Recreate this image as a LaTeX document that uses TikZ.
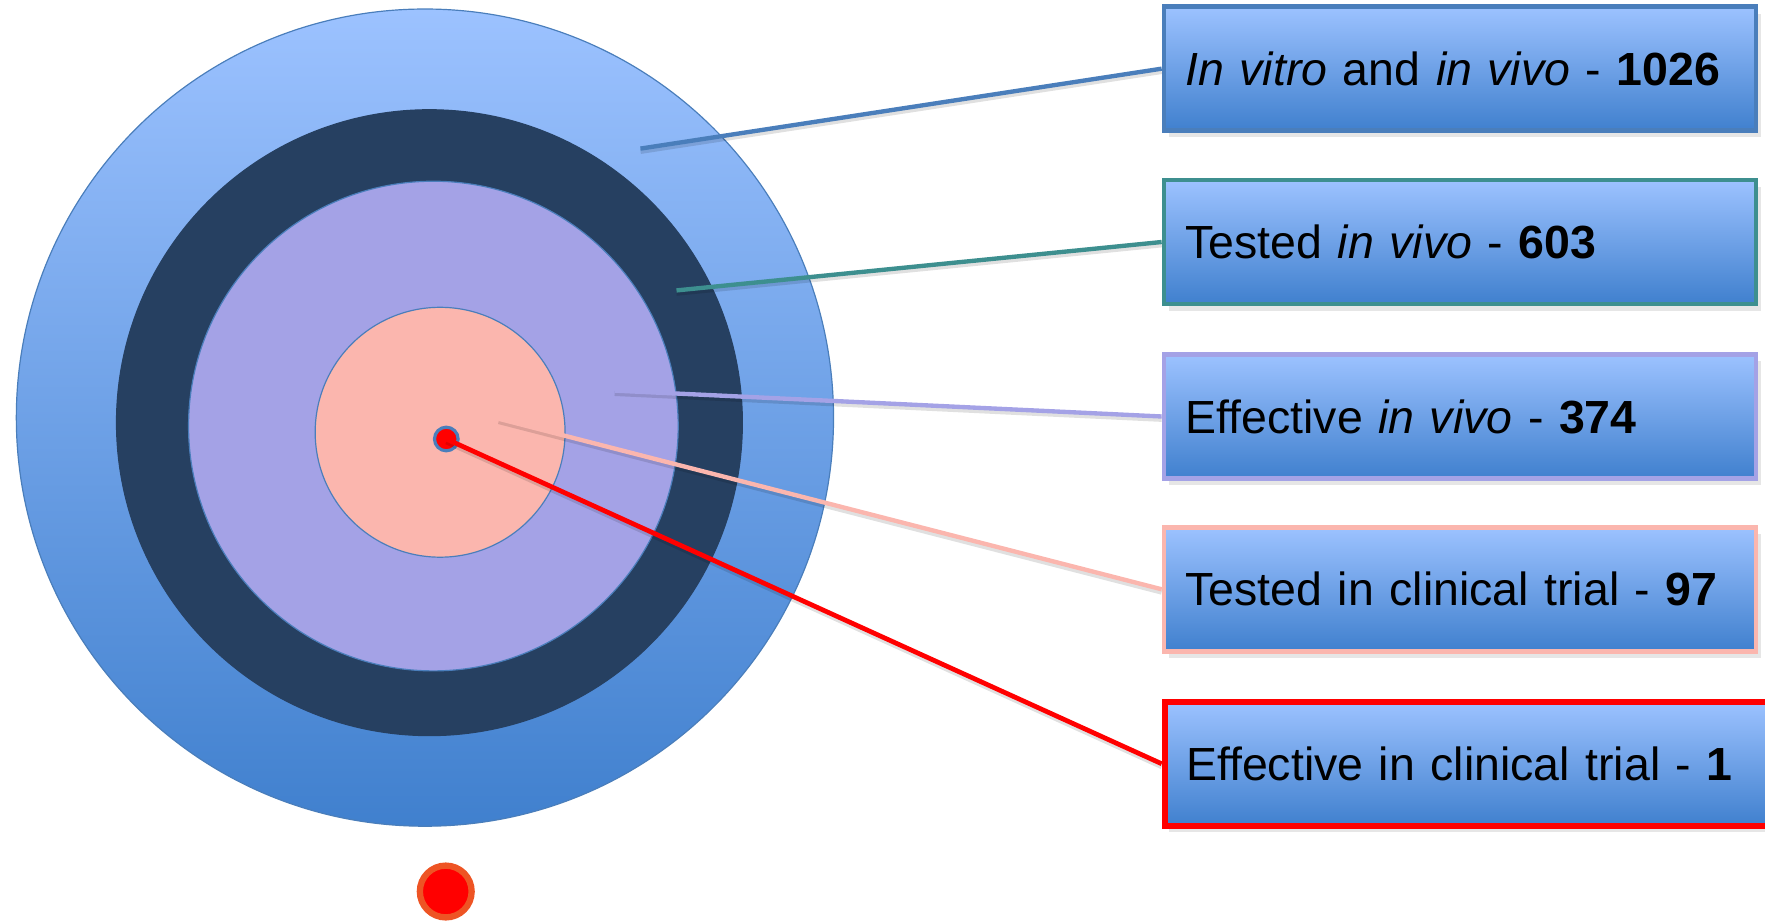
\documentclass[tikz,border=0pt]{standalone}
\usepackage{fontspec}
\setmainfont{Liberation Sans}
\usetikzlibrary{shadows}
\definecolor{lineblue}{RGB}{74,126,187}
\definecolor{boxtop}{RGB}{156,194,255}
\definecolor{boxbottom}{RGB}{64,128,206}
\definecolor{darkring}{RGB}{38,64,97}
\definecolor{lavender}{RGB}{164,162,230}
\definecolor{salmon}{RGB}{251,182,174}
\definecolor{tealline}{RGB}{61,143,143}
\definecolor{dotorange}{RGB}{238,84,36}

\begin{document}
\begin{tikzpicture}[x=0.1mm,y=0.1mm]
        \tikzstyle{ring}=[draw=lineblue,line width=0.3pt,shape=circle,inner sep=0pt,outer sep=0pt]
        \tikzstyle{labelbox}=[shape=rectangle,top color=boxtop,bottom color=boxbottom,line width=1.2pt,
            minimum height=11mm,inner xsep=1.9mm,align=left,anchor=west,font=\fontsize{11.75}{14}\selectfont,
            drop shadow={opacity=0.2,shadow xshift=0.4mm,shadow yshift=-0.6mm}]
        \tikzstyle{leader}=[line width=1.1pt,preaction={draw=black,opacity=0.12,line width=1.3pt,transform canvas={yshift=-0.25mm}}]
        \useasboundingbox (0,0) rectangle (1568,818);

            % target rings
            \node[ring,top color=boxtop,bottom color=boxbottom,minimum size=72.6mm] (outer) at (377.5,447) {};
            \node[ring,fill=darkring,draw=darkring,minimum size=55.6mm] (dark) at (381.5,442.5) {};
            \node[ring,fill=lavender,minimum size=43.5mm] (mid) at (385,439.5) {};
            \node[ring,fill=salmon,minimum size=22.2mm] (inner) at (391,434) {};
            \node[ring,fill=red,line width=0.8pt,minimum size=2.1mm] (bull) at (396.5,428) {};
            \node[ring,fill=red,draw=dotorange,line width=1.6pt,minimum size=4.6mm] (dot) at (396,26) {};

            % label boxes
            \node[labelbox,draw=lineblue,minimum width=52.6mm,text width=48.8mm] (b1) at (1032,757)
                {\textit{In vitro} and \textit{in vivo} - \textbf{1026}};
            \node[labelbox,draw=tealline,minimum width=52.6mm,text width=48.8mm] (b2) at (1032,603)
                {Tested \textit{in vivo} - \textbf{603}};
            \node[labelbox,draw=lavender,minimum width=52.6mm,text width=48.8mm] (b3) at (1032,448)
                {Effective \textit{in vivo} - \textbf{374}};
            \node[labelbox,draw=salmon,minimum width=52.6mm,text width=48.8mm] (b4) at (1032,294.5)
                {Tested in clinical trial - \textbf{97}};
            \node[labelbox,draw=red,line width=1.5pt,minimum width=55mm,text width=51.2mm] (b5) at (1032,139.5)
                {Effective in clinical trial - \textbf{1}};

            \coordinate (c1) at (569,686);
            \coordinate (c2) at (601,560);
            \coordinate (c3) at (546,471);
            \coordinate (c4) at (443,446);

            \draw[leader,lineblue] (c1) -- (b1.west);
            \draw[leader,tealline] (c2) -- (b2.west);
            \draw[leader,lavender] (c3) -- (b3.west);
            \draw[leader,salmon] (c4) -- (b4.west);
            \draw[leader,red,line width=1.2pt] (bull.center) -- (b5.west);
        \end{tikzpicture}
\end{document}
